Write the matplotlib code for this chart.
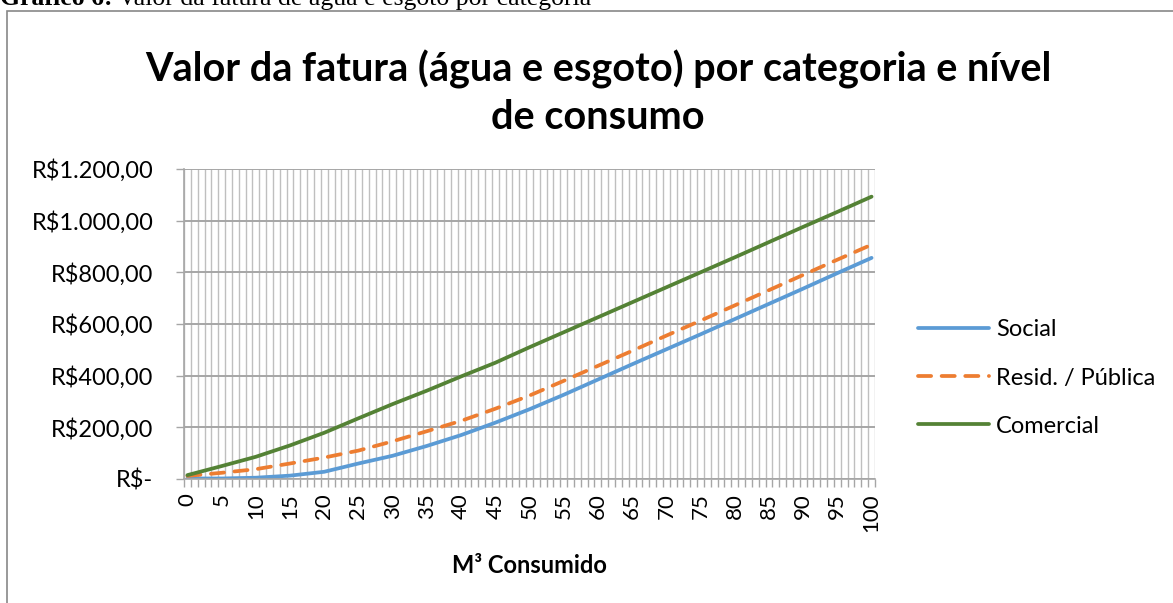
import numpy as np
import matplotlib
matplotlib.use("Agg")
import matplotlib.pyplot as plt
from matplotlib.patches import Rectangle

# consumo (m3) - leitura a cada 5 m3
consumo = [0, 5, 10, 15, 20, 25, 30, 35, 40, 45, 50,
           55, 60, 65, 70, 75, 80, 85, 90, 95, 100]
social = [2, 2, 5, 13, 28, 60, 90, 128, 170, 218, 270,
          326, 385, 444, 502, 560, 619, 678, 737, 797, 856]
resid_publica = [12, 24, 38, 60, 83, 110, 146, 185, 225, 272, 323,
                 380, 438, 496, 555, 613, 672, 731, 790, 849, 907]
comercial = [15, 50, 86, 130, 179, 235, 290, 342, 397, 450, 510,
             568, 626, 684, 742, 800, 858, 917, 976, 1034, 1093]
n_categorias = 101
y_ticks = [0, 200, 400, 600, 800, 1000, 1200]
y_labels = ["R$-", "R$200,00", "R$400,00", "R$600,00", "R$800,00",
            "R$1.000,00", "R$1.200,00"]

W, H = 1173, 603
fig = plt.figure(figsize=(W/100, H/100), dpi=100)
ff = "Lato"

# caption (cut off at the top)
t1 = fig.text(0/W, 1 - 5/H, "Gráfico 6:", family="Liberation Serif",
              fontweight="bold", fontsize=18.5, va="baseline", ha="left")
fig.canvas.draw()
bb = t1.get_window_extent()
fig.text(bb.x1/W + 5/W, 1 - 5/H, "Valor da fatura de água e esgoto por categoria",
         family="Liberation Serif", fontsize=18.5, va="baseline", ha="left")

# chart frame
fig.patches.append(Rectangle((7/W, -0.1), 1.2, 1 - 11/H + 0.1, transform=fig.transFigure,
                             fill=False, edgecolor="#888888", lw=1.2))

ax = fig.add_axes([184/W, 1 - 479/H, (875-184)/W, (479-169)/H])
ax.plot(consumo, social, color="#5b9bd5", lw=2.7, label="Social", solid_capstyle="round")
ax.plot(consumo, resid_publica, color="#ed7d31", lw=2.7, ls=(0, (3.5, 2.8)),
        dash_capstyle="round", label="Resid. / Pública")
ax.plot(consumo, comercial, color="#548235", lw=2.7, label="Comercial", solid_capstyle="round")

ax.set_xlim(-0.5, n_categorias - 0.5)
ax.set_ylim(0, 1200)
ax.set_yticks(y_ticks)
ax.set_yticklabels(y_labels, family=ff, fontsize=17)
ax.set_xticks(consumo)
ax.set_xticklabels([str(c) for c in consumo], rotation=90, family=ff, fontsize=16)
ax.set_xticks(np.arange(-0.5, n_categorias, 1), minor=True)
ax.tick_params(axis="x", which="major", length=0, pad=10)
ax.tick_params(axis="x", which="minor", length=6, color="#a6a6a6", width=1)
ax.tick_params(axis="y", length=6, color="#a6a6a6", width=1, pad=16)
ax.grid(which="minor", axis="x", color="#bfbfbf", lw=1.0)
ax.grid(which="major", axis="y", color="#a6a6a6", lw=1.4)
ax.set_axisbelow(True)
for s in ["top", "right"]:
    ax.spines[s].set_visible(False)
for s in ["left", "bottom"]:
    ax.spines[s].set_color("#a6a6a6")
    ax.spines[s].set_linewidth(1.2)

ax.set_xlabel("M³ Consumido", family=ff, fontweight="bold", fontsize=17, labelpad=16)

fig.text(598/W, 1 - 93/H, "Valor da fatura (água e esgoto) por categoria e nível\nde consumo",
         family=ff, fontweight="bold", fontsize=28.5, ha="center", va="center",
         linespacing=1.35, multialignment="center")

ax.legend(loc="center left", bbox_to_anchor=(918/W, 1 - 378/H), bbox_transform=fig.transFigure,
          frameon=False, prop={"family": ff, "size": 17}, handlelength=3.0,
          handletextpad=0.3, labelspacing=1.15, borderpad=0, borderaxespad=0)

fig.savefig("out.png", dpi=100)
